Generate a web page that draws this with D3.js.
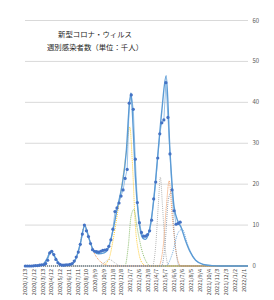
<!DOCTYPE html>
<html>
<head>
<meta charset="utf-8">
<style>
body { margin: 0; background: #fff; }
svg { display: block; font-family: "Noto Sans CJK JP", "Noto Sans", sans-serif; }
</style>
</head>
<body>
<svg id="chart" width="274" height="300"></svg>
<script src="https://cdn.jsdelivr.net/npm/d3@7"></script>
<script>
// weekly cases (thousands), week starting 2020/1/13
var weekStart = "2020-01-13";
var weekly = [0, 0, 0, 0, 0.05, 0.1, 0.1, 0.2, 0.3, 0.3,
  0.6, 1.4, 3.2, 3.6, 2.8, 1.6, 0.8, 0.4, 0.2, 0.2,
  0.3, 0.3, 0.4, 0.6, 1.2, 2.2, 3.4, 5.3, 7.8, 10.0,
  8.6, 7.2, 5.5, 4.0, 3.6, 3.5, 3.4, 3.6, 3.8, 3.9,
  4.0, 4.8, 6.4, 9.0, 13.3, 14.2, 15.4, 17.1, 18.6, 21.4,
  23.6, 39.8, 41.8, 38.3, 26.1, 15.5, 10.6, 8.2, 7.3, 7.3,
  7.7, 8.6, 11.2, 16.4, 20.5, 26.4, 32.3, 35.0, 35.7, 44.8,
  36.3, 27.4, 18.6, 13.5, 10.2, 10.4, 10.7];

// fitted model curve, key points
var fitDates = ["2020-01-13", "2020-03-01", "2020-03-16", "2020-03-28", "2020-04-10", "2020-04-24", "2020-05-08", "2020-05-25",
  "2020-06-20", "2020-07-06", "2020-07-20", "2020-08-04", "2020-08-20", "2020-09-05", "2020-09-20", "2020-10-10",
  "2020-10-25", "2020-11-10", "2020-11-25", "2020-12-10", "2020-12-25", "2021-01-04", "2021-01-10", "2021-01-18",
  "2021-01-25", "2021-02-05", "2021-02-20", "2021-03-01", "2021-03-15", "2021-03-29", "2021-04-12", "2021-04-26",
  "2021-05-11", "2021-05-24", "2021-06-07", "2021-06-21", "2021-07-01", "2021-07-15", "2021-08-01", "2021-08-20",
  "2021-09-15", "2021-10-15", "2021-11-15", "2022-02-16"];
var fitValues = [0, 0.1, 0.5, 1.8, 3.6, 2.2, 0.6, 0.1,
  0.4, 2.0, 5.5, 9.9, 6.5, 3.6, 3.0, 3.2,
  4.5, 9.0, 14.5, 19.5, 28, 39, 42.3, 33,
  22, 12, 6.8, 6.5, 9, 16, 27, 38,
  46.5, 28, 14.5, 10.8, 9.5, 6.5, 3.5, 1.4,
  0.4, 0.1, 0, 0];

// wave components (dotted), key points
var compNames = ["wave1", "wave2", "wave2b", "wave3a", "wave3b", "wave4a", "wave4b", "wave4c", "wave4d"];
var compColors = ["#A5A5A5", "#ED7D31", "#A5A5A5", "#FFC000", "#70AD47", "#A5A5A5", "#ED7D31", "#7F8FA6", "#5B9BD5"];
var compDates = [
  ["2020-02-20", "2020-03-10", "2020-03-25", "2020-04-10", "2020-04-25", "2020-05-10", "2020-05-30"],
  ["2020-06-10", "2020-06-30", "2020-07-15", "2020-08-04", "2020-08-20", "2020-09-05", "2020-09-25", "2020-10-15", "2020-11-05"],
  ["2020-09-20", "2020-10-10", "2020-10-28", "2020-11-15", "2020-12-05"],
  ["2020-10-01", "2020-10-25", "2020-11-10", "2020-11-25", "2020-12-10", "2020-12-25", "2021-01-06", "2021-01-15", "2021-01-25", "2021-02-05", "2021-02-20", "2021-03-05"],
  ["2020-12-20", "2021-01-01", "2021-01-10", "2021-01-20", "2021-02-01", "2021-02-20", "2021-03-20"],
  ["2021-03-25", "2021-04-05", "2021-04-14", "2021-04-21", "2021-04-28", "2021-05-08", "2021-05-20"],
  ["2021-04-15", "2021-05-01", "2021-05-12", "2021-05-21", "2021-06-01", "2021-06-15", "2021-07-01"],
  ["2021-04-25", "2021-05-08", "2021-05-18", "2021-05-28", "2021-06-10", "2021-06-25"],
  ["2021-05-10", "2021-06-01", "2021-06-20", "2021-07-05", "2021-07-25", "2021-08-20", "2021-09-20", "2021-11-01"]
];
var compValues = [
  [0, 0.3, 1.6, 3.6, 2.0, 0.5, 0],
  [0, 1, 4, 9.9, 6.5, 3.3, 1.2, 0.3, 0],
  [0, 0.8, 1.6, 0.8, 0],
  [0, 1.5, 6.5, 13, 20, 28, 34, 25, 10, 3.5, 0.5, 0],
  [0, 5, 12, 13.8, 9, 3, 0],
  [0, 5, 15, 21.7, 15, 4, 0],
  [0, 5, 15, 20.8, 12, 3, 0],
  [0, 6, 16, 18, 6, 0],
  [0, 3, 8, 9, 5, 1.4, 0.3, 0]
];

var yTicks = [0, 10, 20, 30, 40, 50, 60];
var titleLines = ["新型コロナ・ウィルス", "週別感染者数（単位：千人）"];

var parse = d3.timeParse("%Y-%m-%d");
var svg = d3.select("#chart");

var x = d3.scaleTime()
  .domain([parse("2020-01-12"), parse("2022-02-16")])
  .range([25, 248]);
var y = d3.scaleLinear().domain([0, 60]).range([266, 20.5]);

// grid
svg.append("g").selectAll("line").data(yTicks).enter().append("line")
  .attr("x1", 25).attr("x2", 248)
  .attr("y1", function(d) { return y(d); }).attr("y2", function(d) { return y(d); })
  .attr("stroke", "#D9D9D9").attr("stroke-width", 1);

// y labels on the right
svg.append("g").selectAll("text").data(yTicks).enter().append("text")
  .attr("x", 252.5).attr("y", function(d) { return y(d) + 2; })
  .attr("font-size", "6px").attr("fill", "#595959")
  .text(function(d) { return d; });

// x labels every 30 days
var t0 = parse(weekStart);
var xTicks = d3.range(26).map(function(i) { return d3.timeDay.offset(t0, i * 30); });
var fmt = function(d) { return d.getFullYear() + "/" + (d.getMonth() + 1) + "/" + d.getDate(); };
svg.append("g").selectAll("text").data(xTicks).enter().append("text")
  .attr("transform", function(d) { return "translate(" + (x(d) + 2) + ",269) rotate(-90)"; })
  .attr("text-anchor", "end")
  .attr("font-size", "5.6px").attr("fill", "#404040")
  .text(fmt);

// component curves
var line = d3.line().curve(d3.curveMonotoneX)
  .x(function(d) { return x(d[0]); }).y(function(d) { return y(d[1]); });

compNames.forEach(function(name, k) {
  var pts = compDates[k].map(function(s, j) { return [parse(s), compValues[k][j]]; });
  pts.unshift([x.domain()[0], 0]);
  pts.push([x.domain()[1], 0]);
  svg.append("path").datum(pts)
    .attr("class", name)
    .attr("fill", "none").attr("stroke", compColors[k])
    .attr("stroke-width", 0.8).attr("stroke-dasharray", "1,1")
    .attr("d", line);
});

// fitted curve
var fitPts = fitDates.map(function(s, j) { return [parse(s), fitValues[j]]; });
svg.append("path").datum(fitPts)
  .attr("fill", "none").attr("stroke", "#5B9BD5").attr("stroke-width", 1.4)
  .attr("d", line);

// data
var pts = weekly.map(function(v, i) { return [d3.timeDay.offset(t0, i * 7), v]; });
svg.append("path").datum(pts)
  .attr("fill", "none").attr("stroke", "#5B9BD5").attr("stroke-width", 0.6)
  .attr("d", d3.line().x(function(d) { return x(d[0]); }).y(function(d) { return y(d[1]); }));
svg.append("g").selectAll("circle").data(pts).enter().append("circle")
  .attr("cx", function(d) { return x(d[0]); }).attr("cy", function(d) { return y(d[1]); })
  .attr("r", 1.6).attr("fill", "#4472C4");

// title
svg.append("g").selectAll("text").data(titleLines).enter().append("text")
  .attr("x", 95).attr("y", function(d, i) { return 37 + i * 13; })
  .attr("text-anchor", "middle").attr("font-size", "7.4px").attr("fill", "#262626")
  .text(function(d) { return d; });
</script>
</body>
</html>
